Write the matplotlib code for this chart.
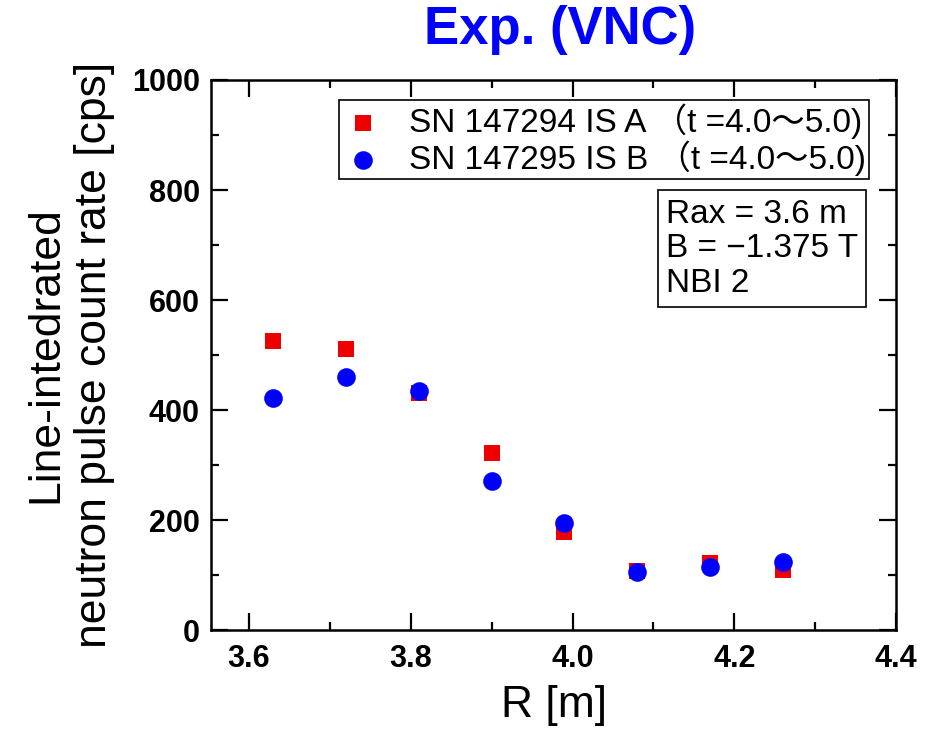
import matplotlib
matplotlib.use('Agg')
import matplotlib.pyplot as plt
from matplotlib.ticker import MultipleLocator

# data
r_a = [3.63, 3.72, 3.81, 3.90, 3.99, 4.08, 4.17, 4.26]
count_a = [525, 511, 431, 322, 178, 107, 122, 109]
r_b = [3.63, 3.72, 3.81, 3.90, 3.99, 4.08, 4.17, 4.26]
count_b = [422, 460, 435, 271, 194, 106, 114, 123]
label_a = 'SN 147294 IS A \uff08t =4.0\u301c5.0)'
label_b = 'SN 147295 IS B \uff08t =4.0\u301c5.0)'
x_ticks = [3.6, 3.8, 4.0, 4.2, 4.4]
x_ticklabels = ['3.6', '3.8', '4.0', '4.2', '4.4']

plt.rcParams['font.family'] = ['Liberation Sans', 'Noto Sans CJK JP', 'DejaVu Sans']

fig = plt.figure(figsize=(9.27, 7.38), dpi=100)
ax = fig.add_axes([0.2276, 0.1463, 0.739, 0.7453])

ax.scatter(r_a, count_a, marker='s', s=145, color='#ee0000', linewidths=0,
           label=label_a, zorder=3)
ax.scatter(r_b, count_b, marker='o', s=180, color='#0000ff', linewidths=0,
           label=label_b, zorder=4)

ax.set_xlim(3.553, 4.4)
ax.set_ylim(0, 1000)
ax.set_xticks(x_ticks)
ax.set_xticklabels(x_ticklabels)
ax.xaxis.set_minor_locator(MultipleLocator(0.1))
ax.yaxis.set_major_locator(MultipleLocator(200))
ax.yaxis.set_minor_locator(MultipleLocator(100))
ax.tick_params(which='both', direction='in', top=True, right=True, width=1.6)
ax.tick_params(which='major', length=12, labelsize=22, pad=8)
ax.tick_params(axis='x', which='major', pad=10)
ax.tick_params(which='minor', length=5.5)
for sp in ax.spines.values():
    sp.set_linewidth(1.8)
for lab in ax.get_xticklabels() + ax.get_yticklabels():
    lab.set_fontweight('bold')

ax.set_xlabel('R [m]', fontsize=32, labelpad=8)
ax.set_ylabel('Line-intedrated\nneutron pulse count rate [cps]', fontsize=32,
              linespacing=1.25, labelpad=12)
ax.set_title('Exp. (VNC)', color='#0000ff', fontsize=38, fontweight='bold',
             x=0.51, pad=26)

leg = ax.legend(loc='upper right', bbox_to_anchor=(0.9606, 0.9636), fontsize=24,
                frameon=True, fancybox=False, edgecolor='black', handletextpad=0.75,
                borderpad=0.1, labelspacing=0.05, handlelength=1.25,
                borderaxespad=0, framealpha=1)
leg.get_frame().set_linewidth(1.2)

ax.text(0.664, 0.784, 'Rax = 3.6 m\nB = \u22121.375 T\nNBI 2', transform=ax.transAxes,
        fontsize=24, va='top', ha='left', linespacing=1.15,
        bbox=dict(boxstyle='square,pad=0.25', facecolor='white', edgecolor='black',
                  linewidth=1.2))

fig.savefig('out.png', dpi=100)
